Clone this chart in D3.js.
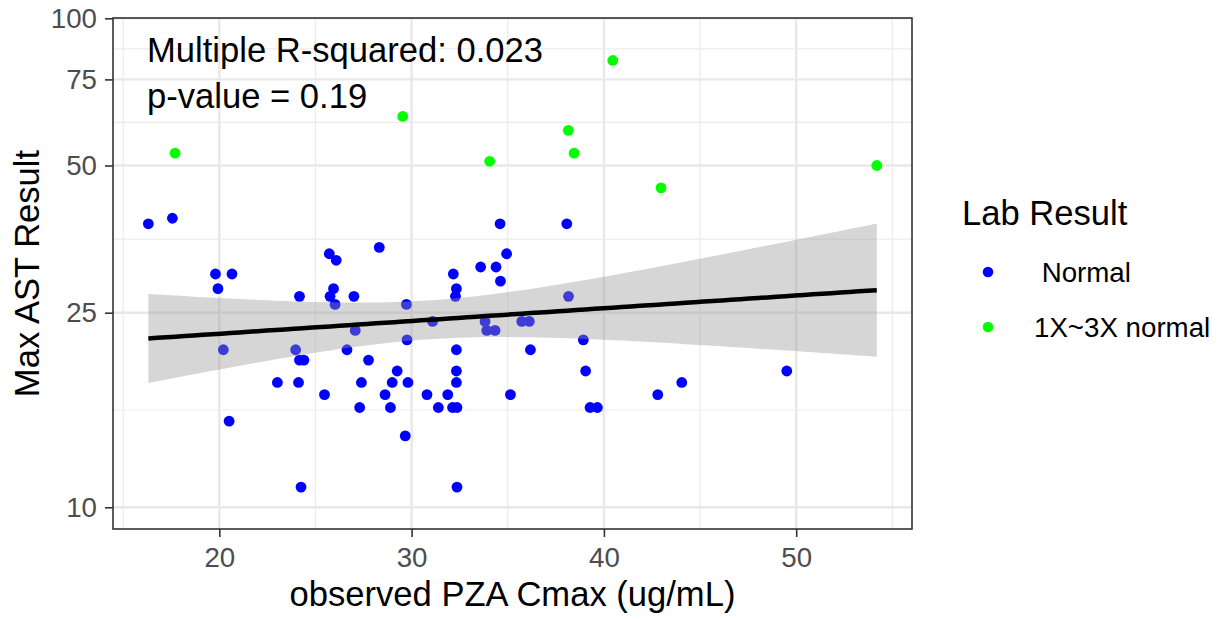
<!DOCTYPE html>
<html lang="en">
<head>
<meta charset="UTF-8">
<title>Max AST Result vs observed PZA Cmax</title>
<script src="https://cdn.jsdelivr.net/npm/d3@7"></script>
<style>
    body{margin:0;background:#fff;}
    text{font-family:"Liberation Sans",Arial,Helvetica,sans-serif;}
</style>
</head>
<body>
<div class="chart"></div>
<script>
    //data
    const groups=[" Normal","1X~3X normal"]
    const groupColors=["#0000ff","#00ff00"]
    const normalX=[16.31,17.56,19.80,20.66,19.93,24.17,25.72,26.08,25.94,25.76,26.02,27.00,28.32,29.73,31.09,29.76,27.07,26.64,32.17,32.33,
        32.28,33.59,34.39,34.60,34.94,34.62,33.82,33.91,34.34,35.73,36.12,32.33,36.18,38.07,38.16,38.93,20.21,23.97,24.17,24.40,
        27.76,29.25,32.33,23.02,24.12,27.39,28.99,29.81,32.33,25.47,28.62,30.80,31.88,35.14,27.30,28.90,31.39,32.13,32.36,20.51,
        29.67,24.25,32.36,39.05,42.80,44.05,39.28,39.66,49.51]
    const normalY=[38,39,30,30,28,27,33,32,28,27,26,27,34,26,24,22,23,21,30,28,
        27,31,31,38,33,29,24,23,23,24,24,21,21,38,27,22,21,21,20,20,
        20,19,19,18,18,18,18,18,18,17,17,17,17,17,16,16,16,16,16,15,
        14,11,11,19,17,18,16,16,19]
    const elevX=[17.70,29.54,34.06,38.15,38.45,40.46,42.97,54.19]
    const elevY=[53,63,51,59,53,82,45,50]
    const xTicks=[20,30,40,50]
    const xMinor=[15,25,35,45,55]
    const yTicks=[10,25,50,75,100]
    const annotation=["Multiple R-squared: 0.023","p-value = 0.19"]
    const tCrit=1.9921 // t(0.975, df=75)

    //layout
    const W=1230,H=619
    const panel={left:113,right:912,top:18,bottom:529}
    const xScale=d3.scaleLinear().domain([20,50]).range([219.3,796.2])
    const yScale=d3.scaleLog().domain([10,100]).range([507.3,18.3])
    const yMinor=d3.pairs(yTicks).map(p=>Math.sqrt(p[0]*p[1]))

    let points=[]
    normalX.forEach((x,i)=>points.push({x:x,y:normalY[i],g:0}))
    elevX.forEach((x,i)=>points.push({x:x,y:elevY[i],g:1}))

    //lm on log10(y)
    let n=points.length
    let mx=d3.mean(points,d=>d.x), my=d3.mean(points,d=>Math.log10(d.y))
    let sxx=d3.sum(points,d=>(d.x-mx)**2)
    let sxy=d3.sum(points,d=>(d.x-mx)*(Math.log10(d.y)-my))
    let b1=sxy/sxx, b0=my-b1*mx
    let s=Math.sqrt(d3.sum(points,d=>(Math.log10(d.y)-b0-b1*d.x)**2)/(n-2))
    let xExt=d3.extent(points,d=>d.x)
    let fit=d3.range(0,81).map(i=>{
        let x=xExt[0]+(xExt[1]-xExt[0])*i/80
        let f=b0+b1*x
        let se=s*Math.sqrt(1/n+(x-mx)**2/sxx)
        return {x:x,f:Math.pow(10,f),lo:Math.pow(10,f-tCrit*se),hi:Math.pow(10,f+tCrit*se)}
    })

    let svg=d3.select('.chart').append('svg').attr('width',W).attr('height',H)

    //grid
    let grid=svg.append('g')
    grid.selectAll('.xminor').data(xMinor).enter().append('line')
        .attr('x1',d=>xScale(d)).attr('x2',d=>xScale(d)).attr('y1',panel.top).attr('y2',panel.bottom)
        .attr('stroke','#ebebeb').attr('stroke-width',1.2)
    grid.selectAll('.yminor').data(yMinor).enter().append('line')
        .attr('y1',d=>yScale(d)).attr('y2',d=>yScale(d)).attr('x1',panel.left).attr('x2',panel.right)
        .attr('stroke','#ebebeb').attr('stroke-width',1.2)
    grid.selectAll('.xmajor').data(xTicks).enter().append('line')
        .attr('x1',d=>xScale(d)).attr('x2',d=>xScale(d)).attr('y1',panel.top).attr('y2',panel.bottom)
        .attr('stroke','#e8e8e8').attr('stroke-width',2.4)
    grid.selectAll('.ymajor').data(yTicks).enter().append('line')
        .attr('y1',d=>yScale(d)).attr('y2',d=>yScale(d)).attr('x1',panel.left).attr('x2',panel.right)
        .attr('stroke','#e8e8e8').attr('stroke-width',2.4)

    //points
    svg.append('g').selectAll('circle').data(points).enter().append('circle')
        .attr('cx',d=>xScale(d.x)).attr('cy',d=>yScale(d.y)).attr('r',5.4)
        .attr('fill',d=>groupColors[d.g])

    //smooth
    svg.append('path').datum(fit)
        .attr('d',d3.area().x(d=>xScale(d.x)).y0(d=>yScale(d.lo)).y1(d=>yScale(d.hi)))
        .attr('fill','#999999').attr('fill-opacity',0.4)
    svg.append('path').datum(fit)
        .attr('d',d3.line().x(d=>xScale(d.x)).y(d=>yScale(d.f)))
        .attr('fill','none').attr('stroke','#000').attr('stroke-width',4.5)

    //border
    svg.append('rect').attr('x',panel.left).attr('y',panel.top)
        .attr('width',panel.right-panel.left).attr('height',panel.bottom-panel.top)
        .attr('fill','none').attr('stroke','#333333').attr('stroke-width',1.6)

    //axis
    let xAxis=d3.axisBottom(xScale).tickValues(xTicks).tickSize(8).tickPadding(10).tickFormat(d3.format('d'))
    let yAxis=d3.axisLeft(yScale).tickValues(yTicks).tickSize(8).tickPadding(8).tickFormat(d3.format('d'))
    let gx=svg.append('g').attr('transform','translate(0,'+panel.bottom+')').call(xAxis)
    let gy=svg.append('g').attr('transform','translate('+panel.left+',0)').call(yAxis)
    ;[gx,gy].forEach(a=>{
        a.select('.domain').remove()
        a.selectAll('line').attr('stroke','#333333').attr('stroke-width',1.6)
        a.selectAll('text').attr('fill','#4d4d4d').style('font-size','27.7px')
    })

    //titles
    svg.append('text').attr('x',(panel.left+panel.right)/2).attr('y',606)
        .attr('text-anchor','middle').style('font-size','34.6px').text('observed PZA Cmax (ug/mL)')
    svg.append('text').attr('transform','translate(39,'+(panel.top+panel.bottom)/2+') rotate(-90)')
        .attr('text-anchor','middle').style('font-size','34.6px').text('Max AST Result')

    //annotation
    svg.selectAll('.annot').data(annotation).enter().append('text')
        .attr('x',147).attr('y',(d,i)=>62+i*46).style('font-size','34.6px').text(d=>d)

    //legend
    let lg=svg.append('g')
    lg.append('text').attr('x',962).attr('y',225).style('font-size','34.6px').text('Lab Result')
    lg.selectAll('circle').data(groups).enter().append('circle')
        .attr('cx',988).attr('cy',(d,i)=>272+i*55).attr('r',5.3).attr('fill',(d,i)=>groupColors[i])
    lg.selectAll('.lab').data(groups).enter().append('text')
        .attr('x',1034).attr('y',(d,i)=>282+i*55).style('font-size','27.7px').style('white-space','pre')
        .text(d=>d)
</script>
</body>
</html>
